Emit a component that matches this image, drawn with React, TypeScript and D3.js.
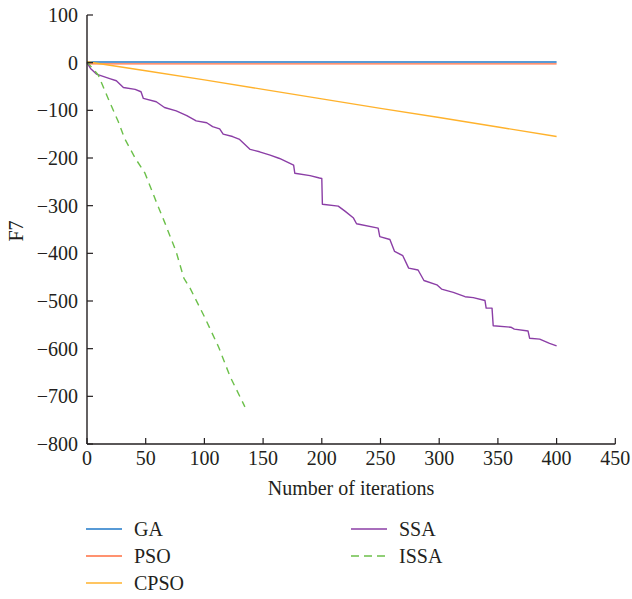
import React from "react";
import * as d3 from "d3";

const xTicks = [0, 50, 100, 150, 200, 250, 300, 350, 400, 450];
const yTicks = [100, 0, -100, -200, -300, -400, -500, -600, -700, -800];

const gaIter = [0, 400];
const gaVal = [1.5, 1.5];
const psoIter = [0, 400];
const psoVal = [-2.5, -2.5];
const cpsoIter = [0, 50, 100, 150, 200, 250, 300, 350, 400];
const cpsoVal = [2, -17, -36, -56, -76, -96, -115, -135, -155];
const ssaIter = [0, 3, 8, 20, 25, 31, 41, 46, 48, 59, 66, 76, 85, 93, 102, 107, 113, 116, 124, 130, 139, 147, 156, 164, 176, 177, 190, 198, 200, 200.5, 214, 220, 227, 229.6, 248, 249.4, 258, 262, 269, 274, 282, 287, 298, 302, 312, 322, 329, 339, 340, 345, 346, 361, 364, 375.7, 377, 385.6, 394, 400];
const ssaVal = [0, -12, -24, -34, -38, -52, -56, -61, -75, -82, -94, -101, -111, -122, -126, -134, -139, -150, -155, -161, -182, -187, -194, -201, -215, -232, -237, -242, -243, -297, -301, -312, -326, -338, -347, -365, -371, -396, -405, -431, -435, -457, -466, -475, -482, -491, -493, -499, -515, -515, -552, -555, -559, -563, -578, -580, -589, -594];
const issaIter = [0, 2, 9.6, 18, 26.7, 32, 41, 49.4, 59, 66, 76, 82.5, 88, 100, 112, 122, 134.5];
const issaVal = [2, -4, -26, -75, -124, -159, -200, -232, -292, -334, -397, -452, -474, -533, -596, -659, -722];

const seriesNames = ["GA", "PSO", "CPSO", "SSA", "ISSA"];
const seriesColors = ["#1f78c8", "#ff6e40", "#ffb22c", "#8b3ea6", "#6cc04a"];

export default function App() {
  const x = d3.scaleLinear().domain([0, 450]).range([87, 615.3]);
  const y = d3.scaleLinear().domain([-800, 100]).range([444, 15]);
  const line = d3
    .line<[number, number]>()
    .x((d) => x(d[0]))
    .y((d) => y(d[1]));
  const zip = (a: number[], b: number[]) => a.map((v, i) => [v, b[i]] as [number, number]);
  const series = [
    zip(gaIter, gaVal),
    zip(psoIter, psoVal),
    zip(cpsoIter, cpsoVal),
    zip(ssaIter, ssaVal),
    zip(issaIter, issaVal),
  ];
  const font = "'Liberation Serif', 'Times New Roman', serif";
  const fs = 20;
  const axisColor = "#231f20";
  const textColor = "#231f20";

  const legendItems = [
    { i: 0, lx: 86, ty: 529 },
    { i: 1, lx: 86, ty: 556 },
    { i: 2, lx: 86, ty: 583 },
    { i: 3, lx: 351, ty: 529 },
    { i: 4, lx: 351, ty: 556 },
  ];

  return (
    <svg
      width={632}
      height={599}
      style={{ position: "absolute", left: 0, top: 0, background: "#fff" }}
      fontFamily={font}
    >
      {series.map((s, i) => (
        <path
          key={seriesNames[i]}
          d={line(s) || ""}
          fill="none"
          stroke={seriesColors[i]}
          strokeWidth={1.4}
          strokeDasharray={i === 4 ? "7,5.5" : undefined}
          strokeLinejoin="round"
        />
      ))}
      <line x1={x(0)} x2={x(450)} y1={y(-800)} y2={y(-800)} stroke={axisColor} strokeWidth={1.4} />
      <line x1={x(0)} x2={x(0)} y1={y(-800)} y2={y(100)} stroke={axisColor} strokeWidth={1.4} />
      {xTicks.map((t) => (
        <g key={"x" + t}>
          <line x1={x(t)} x2={x(t)} y1={y(-800)} y2={y(-800) - 6} stroke={axisColor} strokeWidth={1.2} />
          <text x={x(t)} y={y(-800) + 21} textAnchor="middle" fontSize={fs} fill={textColor}>
            {t}
          </text>
        </g>
      ))}
      {yTicks.map((t) => (
        <g key={"y" + t}>
          <line x1={x(0)} x2={x(0) + 6} y1={y(t)} y2={y(t)} stroke={axisColor} strokeWidth={1.2} />
          <text x={x(0) - 9} y={y(t)} dy="0.35em" textAnchor="end" fontSize={fs} fill={textColor}>
            {t < 0 ? "\u2212" + Math.abs(t) : String(t)}
          </text>
        </g>
      ))}
      <text x={351} y={495} textAnchor="middle" fontSize={fs} fill={textColor}>
        Number of iterations
      </text>
      <text transform={`translate(23, 231) rotate(-90)`} textAnchor="middle" fontSize={fs} fill={textColor}>
        F7
      </text>
      {legendItems.map((it) => (
        <g key={"lg" + it.i}>
          <line
            x1={it.lx}
            x2={it.lx + 36}
            y1={it.ty}
            y2={it.ty}
            stroke={seriesColors[it.i]}
            strokeWidth={1.4}
            strokeDasharray={it.i === 4 ? "8,5" : undefined}
          />
          <text x={it.lx + 48} y={it.ty} dy="0.35em" fontSize={fs} fill={textColor}>
            {seriesNames[it.i]}
          </text>
        </g>
      ))}
    </svg>
  );
}
